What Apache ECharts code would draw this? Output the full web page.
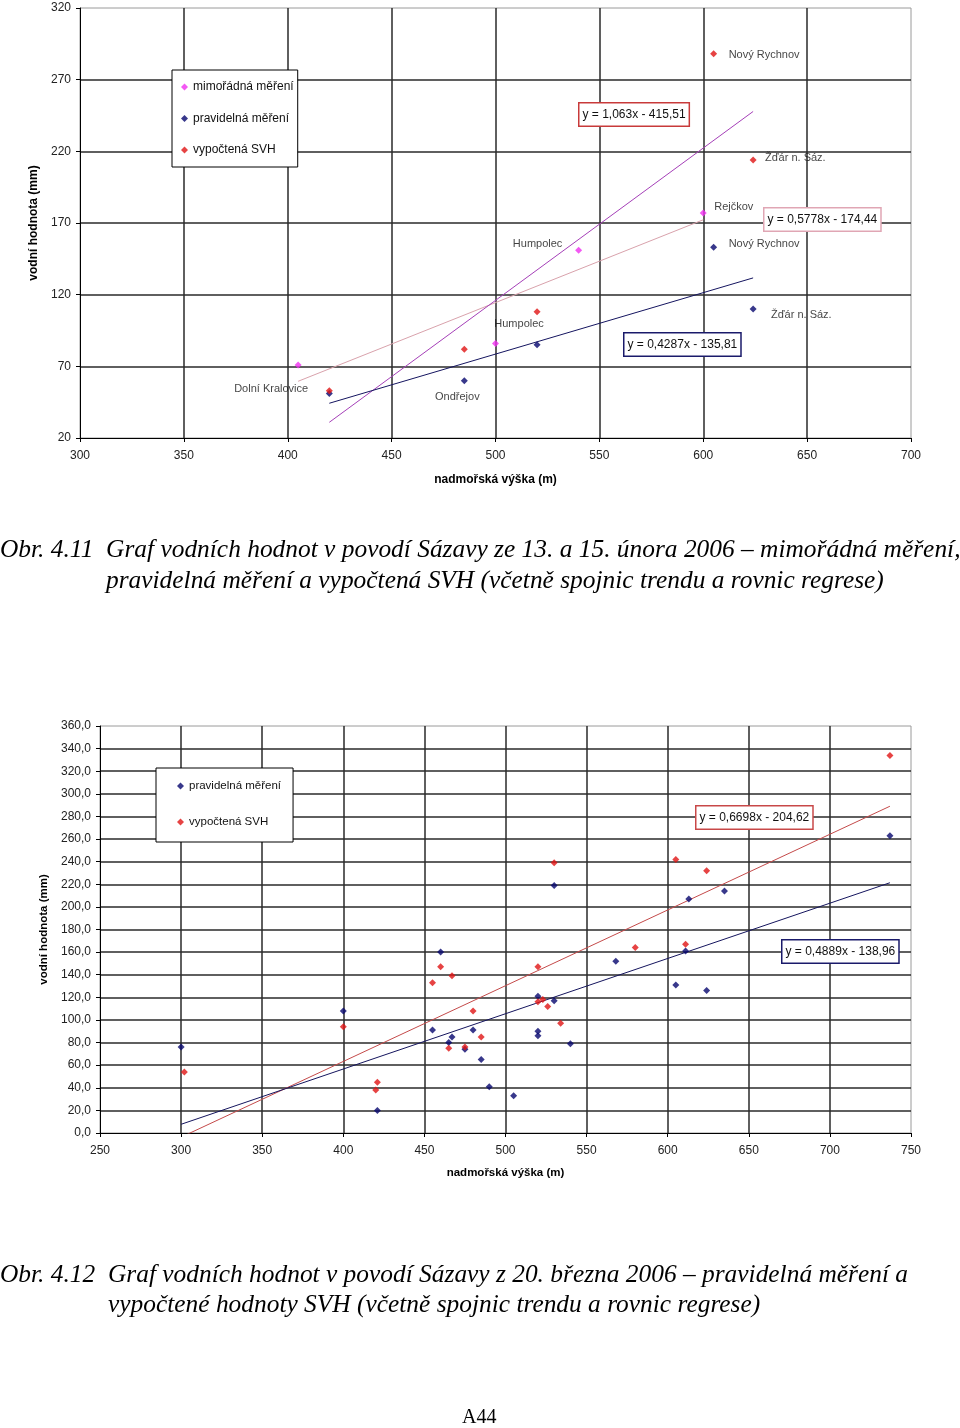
<!DOCTYPE html>
<html><head><meta charset="utf-8">
<script src="https://cdn.jsdelivr.net/npm/echarts@6/dist/echarts.min.js"></script>
<style>html,body{margin:0;padding:0;background:#fff}#c{width:960px;height:1428px}</style>
</head><body><div id="c"></div>
<script>
// ---------- Chart 1 (Obr. 4.11) data ----------
const c1XTicks = [300, 350, 400, 450, 500, 550, 600, 650, 700];
const c1YTicks = [20, 70, 120, 170, 220, 270, 320];
const c1Special = [[405, 71], [500, 86], [540, 151], [600, 177]];          // mimořádná měření
const c1SpecialNames = ['Dolní Kralovice', '', 'Humpolec', 'Rejčkov'];
const c1Regular = [[420, 51], [485, 60], [520, 85], [605, 153], [624, 110]]; // pravidelná měření
const c1RegularNames = ['', 'Ondřejov', '', 'Nový Rychnov', 'Žďár n. Sáz.'];
const c1Calc = [[420, 53], [485, 82], [520, 108], [605, 288], [624, 214]];    // vypočtená SVH
const c1CalcNames = ['', '', 'Humpolec', 'Nový Rychnov', 'Žďár n. Sáz.'];
// trend lines: [slope, intercept, xFrom, xTo]
const c1TrendSpecial = [0.5778, -174.44, 405, 600];
const c1TrendCalc = [1.063, -415.51, 420, 624];
const c1TrendRegular = [0.4287, -135.81, 420, 624];
const c1Equations = ['y = 1,063x - 415,51', 'y = 0,5778x - 174,44', 'y = 0,4287x - 135,81'];

// ---------- Chart 2 (Obr. 4.12) data ----------
const c2XTicks = [250, 300, 350, 400, 450, 500, 550, 600, 650, 700, 750];
const c2YTicks = [0, 20, 40, 60, 80, 100, 120, 140, 160, 180, 200, 220, 240, 260, 280, 300, 320, 340, 360];
const c2Regular = [[300, 76], [400, 108], [421, 20], [455, 91], [460, 160], [465, 80], [467, 85], [475, 74],
  [480, 91], [485, 65], [490, 41], [505, 33], [520, 121], [520, 90], [520, 86], [530, 117], [530, 219],
  [540, 79], [568, 152], [605, 131], [611, 161], [613, 207], [624, 126], [635, 214], [737, 263]];
const c2Calc = [[302, 54], [400, 94], [420, 38], [421, 45], [455, 133], [460, 147], [465, 75], [467, 139],
  [475, 76], [480, 108], [485, 85], [520, 147], [520, 116], [523, 118], [526, 112], [534, 97], [530, 239],
  [580, 164], [605, 242], [611, 167], [624, 232], [737, 334]];
const c2TrendCalc = [0.6698, -204.62, 300, 737];
const c2TrendRegular = [0.4889, -138.96, 300, 737];
const c2Equations = ['y = 0,6698x - 204,62', 'y = 0,4889x - 138,96'];

const seriesNames = ['mimořádná měření', 'pravidelná měření', 'vypočtená SVH'];
const axisTitles = ['nadmořská výška (m)', 'vodní hodnota (mm)'];
const captions = [
  'Obr. 4.11  Graf vodních hodnot v povodí Sázavy ze 13. a 15. února 2006 – mimořádná měření,',
  'pravidelná měření a vypočtená SVH (včetně spojnic trendu a rovnic regrese)',
  'Obr. 4.12  Graf vodních hodnot v povodí Sázavy z 20. března 2006 – pravidelná měření a',
  'vypočtené hodnoty SVH (včetně spojnic trendu a rovnic regrese)'
];
const pageLabel = 'A44';

// ---------- styling / layout ----------
const SANS = '"Liberation Sans", Arial, sans-serif';
const SERIF = '"Liberation Serif", "Times New Roman", serif';
const COL_MAG = '#f030f0', COL_NAVY = '#06066e', COL_RED = '#e01414';
const GRID_LINE = '#2a2a2a';

// label placement for chart 1 point names (align, offset from point centre)
const c1LabelPos = {
  'Dolní Kralovice': ['center', [-27, 24]],
  'special:Humpolec': ['center', [-41, -6]],
  'Rejčkov': ['left', [11, -6]],
  'Ondřejov': ['center', [-7, 16]],
  'regular:Nový Rychnov': ['left', [15, -3]],
  'regular:Žďár n. Sáz.': ['left', [18, 6]],
  'calc:Humpolec': ['center', [-18, 12]],
  'calc:Nový Rychnov': ['left', [15, 1]],
  'calc:Žďár n. Sáz.': ['left', [12, -2]]
};
function labelled(points, names, key) {
  return points.map((p, i) => {
    const n = names[i];
    if (!n) return { value: p };
    const pos = c1LabelPos[key + ':' + n] || c1LabelPos[n];
    return {
      value: p, name: n,
      label: { show: true, formatter: n, position: 'inside', align: pos[0], verticalAlign: 'middle',
        offset: pos[1], fontSize: 11, fontFamily: SANS, color: '#111' }
    };
  });
}
function trend(t) {
  return [[t[2], t[0] * t[2] + t[1]], [t[3], t[0] * t[3] + t[1]]];
}
function scatter(name, data, color, xi) {
  return { type: 'scatter', name, data, xAxisIndex: xi, yAxisIndex: xi, symbol: 'diamond', symbolSize: 7,
    itemStyle: { color }, z: 5, label: { show: false } };
}
function line(data, color, xi) {
  return { type: 'line', data, xAxisIndex: xi, yAxisIndex: xi, symbol: 'none', silent: true,
    lineStyle: { color, width: 1 }, z: 4, clip: true };
}
function xAxis(gi, ticks, fs, gap) {
  return { type: 'value', gridIndex: gi, min: ticks[0], max: ticks[ticks.length - 1], interval: ticks[1] - ticks[0],
    name: axisTitles[0], nameLocation: 'middle', nameGap: gap,
    nameTextStyle: { fontFamily: SANS, fontSize: fs, fontWeight: 'bold', color: '#000' },
    axisLine: { show: true, lineStyle: { color: '#000', width: 1 } },
    axisTick: { show: true, length: 4, lineStyle: { color: '#000' } },
    axisLabel: { fontFamily: SANS, fontSize: 12, color: '#222', margin: 12 },
    splitLine: { show: true, showMinLine: false, showMaxLine: false, lineStyle: { color: GRID_LINE, width: 1.5 } } };
}
function yAxis(gi, ticks, fs, gap, fmt) {
  return { type: 'value', gridIndex: gi, min: ticks[0], max: ticks[ticks.length - 1], interval: ticks[1] - ticks[0],
    name: axisTitles[1], nameLocation: 'middle', nameGap: gap,
    nameTextStyle: { fontFamily: SANS, fontSize: fs, fontWeight: 'bold', color: '#000' },
    axisLine: { show: true, lineStyle: { color: '#000', width: 1 } },
    axisTick: { show: true, length: 4, lineStyle: { color: '#000' } },
    axisLabel: { fontFamily: SANS, fontSize: 12, color: '#222', margin: 9, formatter: fmt },
    splitLine: { show: true, showMinLine: false, showMaxLine: false, lineStyle: { color: GRID_LINE, width: 1.5 } } };
}
function eqBox(text, x, y, border) {
  return { type: 'text', left: x, top: y, z: 10,
    style: { text, font: '12px ' + SANS, fill: '#111', backgroundColor: '#fff', borderColor: border, borderWidth: 1.5,
      padding: [5, 3, 5, 3] } };
}
function caption(text, x, y) {
  return { type: 'text', left: x, top: y, scaleX: 0.977,
    style: { text, font: 'italic 26px ' + SERIF, fill: '#000' } };
}

const chart = echarts.init(document.getElementById('c'), null, { renderer: 'canvas' });
chart.setOption({
  animation: false,
  backgroundColor: '#fff',
  grid: [
    { left: 80, top: 8, width: 831, height: 430, show: true, borderColor: '#9a9a9a', borderWidth: 1, backgroundColor: '#fff' },
    { left: 100, top: 726, width: 811, height: 407, show: true, borderColor: '#9a9a9a', borderWidth: 1, backgroundColor: '#fff' }
  ],
  xAxis: [xAxis(0, c1XTicks, 12, 36), xAxis(1, c2XTicks, 11.5, 34)],
  yAxis: [yAxis(0, c1YTicks, 12, 34, v => String(v)), yAxis(1, c2YTicks, 11.5, 41, v => v.toFixed(1).replace('.', ','))],
  legend: [
    { data: seriesNames, orient: 'vertical', left: 172, top: 70, icon: 'diamond', itemWidth: 7, itemHeight: 7,
      itemGap: 19.5, padding: [11, 4, 11, 9], borderColor: '#000', borderWidth: 1, backgroundColor: '#fff',
      selectedMode: false, textStyle: { fontFamily: SANS, fontSize: 12, color: '#111' } },
    { data: seriesNames.slice(1), orient: 'vertical', left: 156, top: 768, icon: 'diamond', itemWidth: 7, itemHeight: 7,
      itemGap: 24, padding: [12, 12, 14, 21], borderColor: '#000', borderWidth: 1, backgroundColor: '#fff',
      selectedMode: false, textStyle: { fontFamily: SANS, fontSize: 11.5, color: '#111' } }
  ],
  series: [
    line(trend(c1TrendSpecial), '#d9a2ac', 0),
    line(trend(c1TrendCalc), '#a53fb8', 0),
    line(trend(c1TrendRegular), '#151560', 0),
    scatter(seriesNames[0], labelled(c1Special, c1SpecialNames, 'special'), COL_MAG, 0),
    scatter(seriesNames[1], labelled(c1Regular, c1RegularNames, 'regular'), COL_NAVY, 0),
    scatter(seriesNames[2], labelled(c1Calc, c1CalcNames, 'calc'), COL_RED, 0),
    line(trend(c2TrendCalc), '#c44a4a', 1),
    line(trend(c2TrendRegular), '#15155e', 1),
    scatter(seriesNames[1], c2Regular, COL_NAVY, 1),
    scatter(seriesNames[2], c2Calc, COL_RED, 1)
  ],
  graphic: [
    eqBox(c1Equations[0], 578, 102, '#c83a3a'),
    eqBox(c1Equations[1], 763, 207, '#e0a6b4'),
    eqBox(c1Equations[2], 623, 332, '#1a1a6a'),
    eqBox(c2Equations[0], 695, 805, '#c84848'),
    eqBox(c2Equations[1], 781, 939, '#1a1a6a'),
    caption(captions[0], 0, 537),
    caption(captions[1], 106, 568),
    caption(captions[2], 0, 1262),
    caption(captions[3], 108, 1292),
    { type: 'text', left: 462, top: 1408, style: { text: pageLabel, font: '20px ' + SERIF, fill: '#000' } }
  ]
});
</script></body></html>
